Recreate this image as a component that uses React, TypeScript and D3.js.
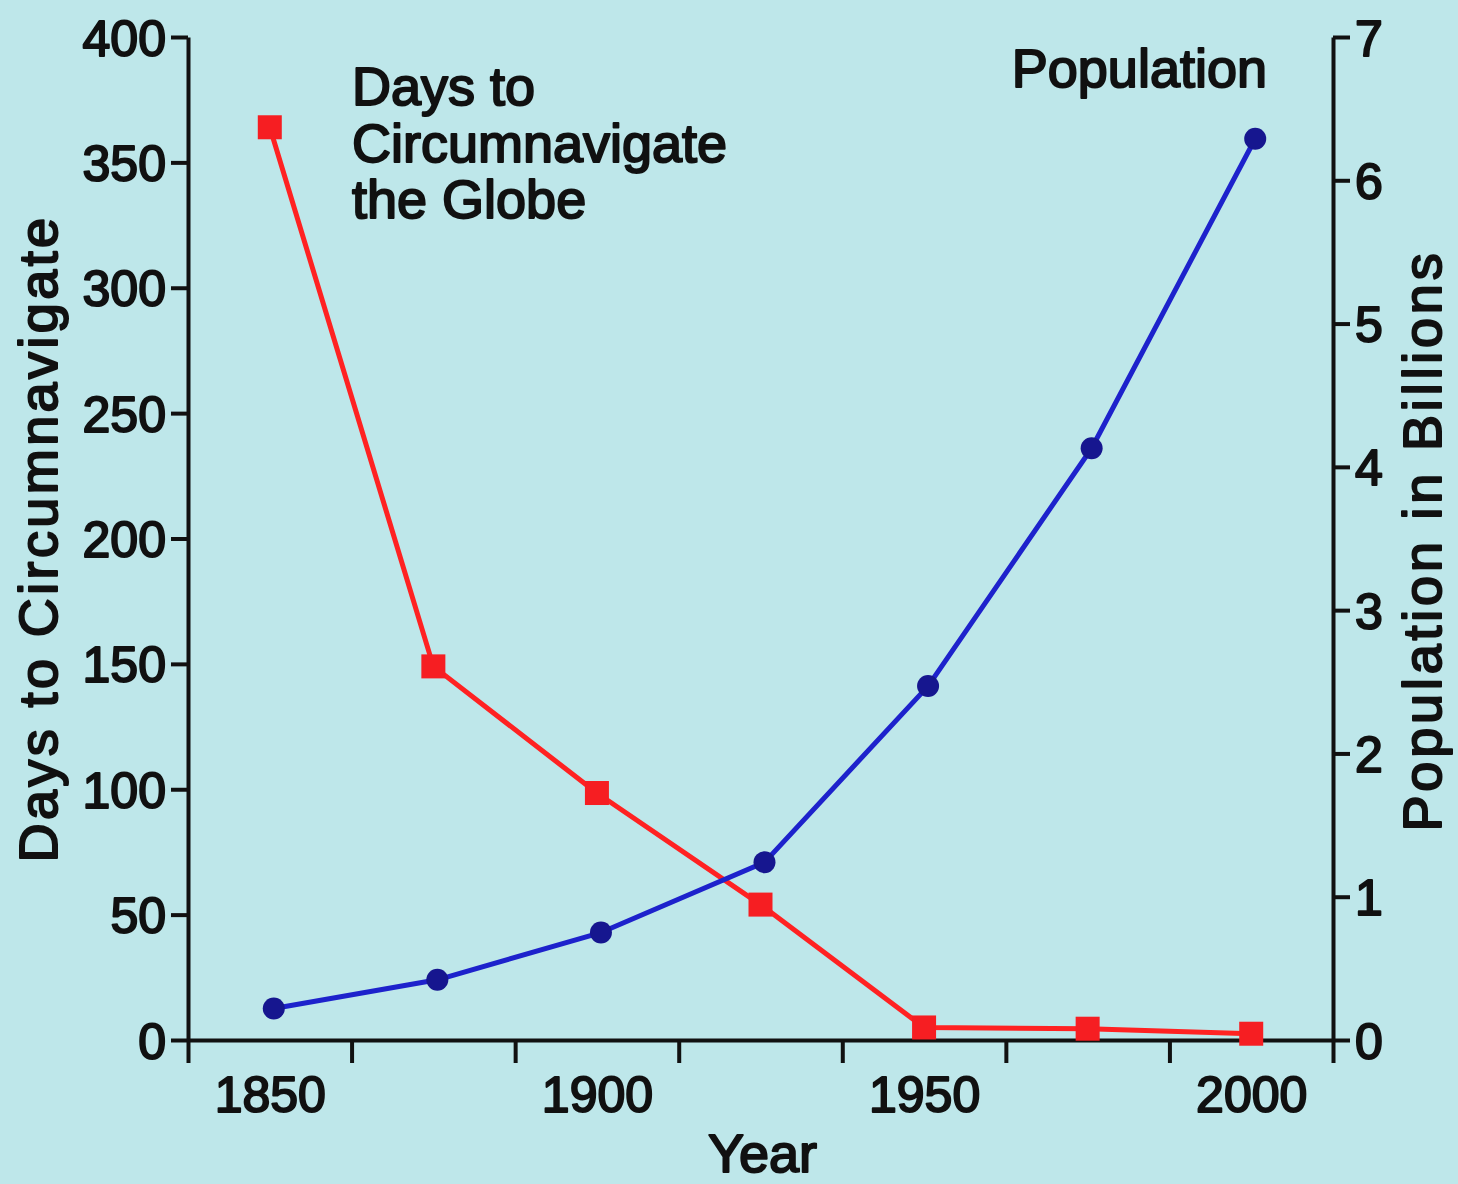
import React, { useEffect, useRef } from "react";
import * as d3 from "d3";

const years = [1850, 1875, 1900, 1925, 1950, 1975, 2000];
const daysToCircle = [364, 149, 98.5, 54, 5, 4.5, 2.5];
const populationBillions = [0.22, 0.42, 0.75, 1.24, 2.47, 4.13, 6.29];
const xLabelYears = [1850, 1900, 1950, 2000];
const xTickMarks = [1837.5, 1862.5, 1887.5, 1912.5, 1937.5, 1962.5, 1987.5, 2012.5];
const leftTicks = [0, 50, 100, 150, 200, 250, 300, 350, 400];
const rightTicks = [0, 1, 2, 3, 4, 5, 6, 7];

const W = 1458, H = 1184;
const FONT = "'Liberation Sans', Arial, Helvetica, sans-serif";

const App: React.FC = () => {
  const ref = useRef<SVGSVGElement>(null);

  useEffect(() => {
    document.body.style.margin = "0";
    const svg = d3.select(ref.current);
    svg.selectAll("*").remove();

    const x0 = 188, x1 = 1333, yBottom = 1040, yTop = 37;

    const x = d3.scaleLinear().domain([1837.5, 2012.5]).range([x0, x1]);
    const yL = d3.scaleLinear().domain([0, 400]).range([yBottom, yTop]);
    const yR = d3.scaleLinear().domain([0, 7]).range([yBottom, yTop]);

    svg.append("rect").attr("width", W).attr("height", H).attr("fill", "#bee7ea");

    // regular face thickened with a thin outline, to get Helvetica-medium look
    const styleText = (sel: any, size: number) =>
      sel.attr("font-family", FONT)
        .attr("font-size", size)
        .attr("fill", "#111")
        .attr("stroke", "#111")
        .attr("stroke-width", 2)
        .attr("stroke-linejoin", "round");

    // left axis
    const gl = svg.append("g").attr("transform", `translate(${x0},0)`)
      .call(d3.axisLeft(yL).tickValues(leftTicks).tickSize(17).tickSizeOuter(0).tickPadding(5));
    gl.select(".domain").attr("stroke", "#111").attr("stroke-width", 4);
    gl.selectAll(".tick line").attr("stroke", "#111").attr("stroke-width", 4);
    styleText(gl.selectAll(".tick text"), 50).attr("dy", "0.36em");

    // right axis
    const gr = svg.append("g").attr("transform", `translate(${x1},0)`)
      .call(d3.axisRight(yR).tickValues(rightTicks).tickSize(17).tickSizeOuter(0).tickPadding(5)
        .tickFormat(d3.format("d")));
    gr.select(".domain").attr("stroke", "#111").attr("stroke-width", 4);
    gr.selectAll(".tick line").attr("stroke", "#111").attr("stroke-width", 4);
    styleText(gr.selectAll(".tick text"), 50).attr("dy", "0.36em");

    // bottom axis: marks at band edges, labels at years
    const gb = svg.append("g").attr("transform", `translate(0,${yBottom})`)
      .call(d3.axisBottom(x).tickValues(xTickMarks).tickSize(23).tickSizeOuter(0).tickFormat(() => ""));
    gb.select(".domain").attr("stroke", "#111").attr("stroke-width", 4);
    gb.selectAll(".tick line").attr("stroke", "#111").attr("stroke-width", 4);

    const gbl = svg.append("g").attr("transform", `translate(0,${yBottom})`)
      .call(d3.axisBottom(x).tickValues(xLabelYears).tickSize(0).tickPadding(36).tickFormat(d3.format("d")));
    gbl.select(".domain").remove();
    styleText(gbl.selectAll(".tick text"), 50);

    // axis titles
    styleText(svg.append("text"), 54)
      .attr("transform", `translate(57,${(yTop + yBottom) / 2}) rotate(-90)`)
      .attr("text-anchor", "middle")
      .attr("letter-spacing", 3.4)
      .text("Days to Circumnavigate");

    styleText(svg.append("text"), 54)
      .attr("transform", `translate(1441,${(yTop + yBottom) / 2 + 2}) rotate(-90)`)
      .attr("text-anchor", "middle")
      .attr("letter-spacing", 3.8)
      .text("Population in Billions");

    styleText(svg.append("text"), 54)
      .attr("x", (x0 + x1) / 2 + 2)
      .attr("y", 1172)
      .attr("text-anchor", "middle")
      .text("Year");

    // series labels
    const lbl = styleText(svg.append("text"), 54).attr("x", 352);
    ["Days to", "Circumnavigate", "the Globe"].forEach((s, i) => {
      lbl.append("tspan").attr("x", 352).attr("y", 105 + i * 56.5).text(s);
    });

    styleText(svg.append("text"), 54)
      .attr("x", 1267)
      .attr("y", 87)
      .attr("text-anchor", "end")
      .text("Population");

    // red series
    const redLine = d3.line<number>().x((_, i) => x(years[i])).y(d => yL(d));
    svg.append("path").datum(daysToCircle)
      .attr("d", redLine)
      .attr("fill", "none")
      .attr("stroke", "#ff2222")
      .attr("stroke-width", 5)
      .attr("stroke-linejoin", "round");
    svg.selectAll(".sq").data(daysToCircle).enter().append("rect")
      .attr("x", (_, i) => x(years[i]) - 12)
      .attr("y", d => yL(d) - 12)
      .attr("width", 24)
      .attr("height", 24)
      .attr("fill", "#f61e22");

    // blue series
    const blueLine = d3.line<number>().x((_, i) => x(years[i]) + 4).y(d => yR(d));
    svg.append("path").datum(populationBillions)
      .attr("d", blueLine)
      .attr("fill", "none")
      .attr("stroke", "#1d22cc")
      .attr("stroke-width", 5)
      .attr("stroke-linejoin", "round");
    svg.selectAll(".dot").data(populationBillions).enter().append("circle")
      .attr("cx", (_, i) => x(years[i]) + 4)
      .attr("cy", d => yR(d))
      .attr("r", 11)
      .attr("fill", "#16168f");
  }, []);

  return (
    <svg ref={ref} width={W} height={H}
         style={{ display: "block", position: "absolute", left: 0, top: 0 }} />
  );
};

export default App;
